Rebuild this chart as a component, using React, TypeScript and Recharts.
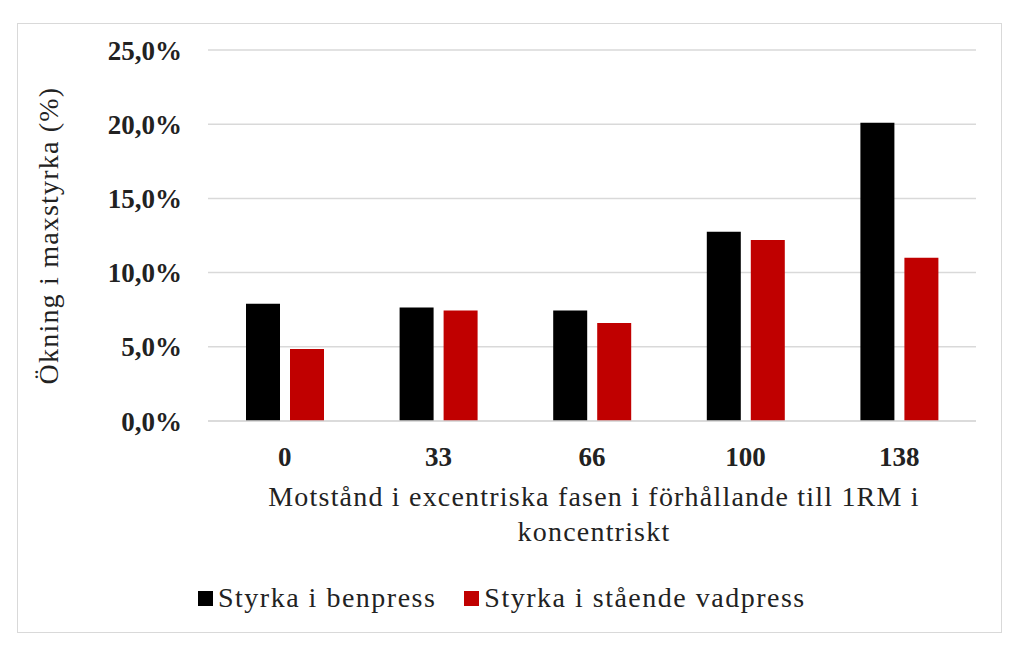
import React from 'react';
import { Bar, BarChart, CartesianGrid, Label, XAxis, YAxis } from 'recharts';

const categories = ['0', '33', '66', '100', '138'];
const benpress = [7.9, 7.65, 7.45, 12.75, 20.1];
const vadpress = [4.85, 7.45, 6.6, 12.2, 11.0];
const yTicks = [0, 5, 10, 15, 20, 25];
const seriesNames = ['Styrka i benpress', 'Styrka i stående vadpress'];
const seriesColors = ['#000000', '#c00000'];

const FONT = '"Liberation Serif", "DejaVu Serif", serif';

const data = categories.map((c, i) => ({
  cat: c,
  benpress: benpress[i],
  vadpress: vadpress[i],
}));

function formatPct(v: number) {
  return `${v.toFixed(1).replace('.', ',')}%`;
}

function XTitle(props: any) {
  const { viewBox } = props;
  if (!viewBox) return null;
  const cx = viewBox.x + viewBox.width / 2 + 2;
  return (
    <text
      x={cx}
      y={viewBox.y + 85}
      textAnchor="middle"
      fontFamily={FONT}
      fontSize={28}
      letterSpacing={1.2}
      fill="#222"
    >
      <tspan x={cx}>Motstånd i excentriska fasen i förhållande till 1RM i</tspan>
      <tspan x={cx} dy={35}>koncentriskt</tspan>
    </text>
  );
}

function YTitle(props: any) {
  const { viewBox } = props;
  if (!viewBox) return null;
  const cy = viewBox.y + viewBox.height / 2;
  const cx = 58;
  return (
    <text
      x={cx}
      y={cy}
      textAnchor="middle"
      transform={`rotate(-90 ${cx} ${cy})`}
      fontFamily={FONT}
      fontSize={28}
      letterSpacing={1.2}
      fill="#222"
    >
      Ökning i maxstyrka (%)
    </text>
  );
}

export default function App() {
  return (
    <div
      style={{
        position: 'absolute',
        left: 0,
        top: 0,
        width: 1024,
        height: 652,
        background: '#fff',
        fontFamily: FONT,
      }}
    >
      <div
        style={{
          position: 'absolute',
          left: 17,
          top: 23,
          width: 983,
          height: 608,
          border: '1px solid #d9d9d9',
        }}
      />
      <div style={{ position: 'absolute', left: 0, top: 0 }}>
        <BarChart
          width={1024}
          height={652}
          data={data}
          margin={{ top: 50, right: 48, left: 0, bottom: 0 }}
          barGap={10}
          barSize={34}
        >
          <CartesianGrid vertical={false} stroke="#d9d9d9" strokeWidth={1.5} />
          <XAxis
            dataKey="cat"
            height={231}
            axisLine={{ stroke: '#d9d9d9', strokeWidth: 1.5 }}
            tickLine={false}
            tick={{ fontFamily: FONT, fontSize: 27, fontWeight: 'bold', fill: '#222' }}
            tickMargin={20}
          >
            <Label content={<XTitle />} />
          </XAxis>
          <YAxis
            width={208}
            domain={[0, 25]}
            ticks={yTicks}
            tickFormatter={formatPct}
            axisLine={false}
            tickLine={false}
            tick={{ fontFamily: FONT, fontSize: 27, fontWeight: 'bold', fill: '#222' }}
            tickMargin={20}
          >
            <Label content={<YTitle />} />
          </YAxis>
          <Bar dataKey="benpress" fill={seriesColors[0]} isAnimationActive={false} />
          <Bar dataKey="vadpress" fill={seriesColors[1]} isAnimationActive={false} />
        </BarChart>
      </div>
      <div
        style={{
          position: 'absolute',
          left: 198,
          top: 582,
          display: 'flex',
          alignItems: 'center',
          fontSize: 28,
          letterSpacing: 1.5,
          color: '#222',
          whiteSpace: 'nowrap',
        }}
      >
        {seriesNames.map((n, i) => (
          <div key={n} style={{ display: 'flex', alignItems: 'center', marginRight: 28 }}>
            <span
              style={{
                display: 'inline-block',
                width: 15,
                height: 15,
                background: seriesColors[i],
                marginRight: 5,
              }}
            />
            <span>{n}</span>
          </div>
        ))}
      </div>
    </div>
  );
}
